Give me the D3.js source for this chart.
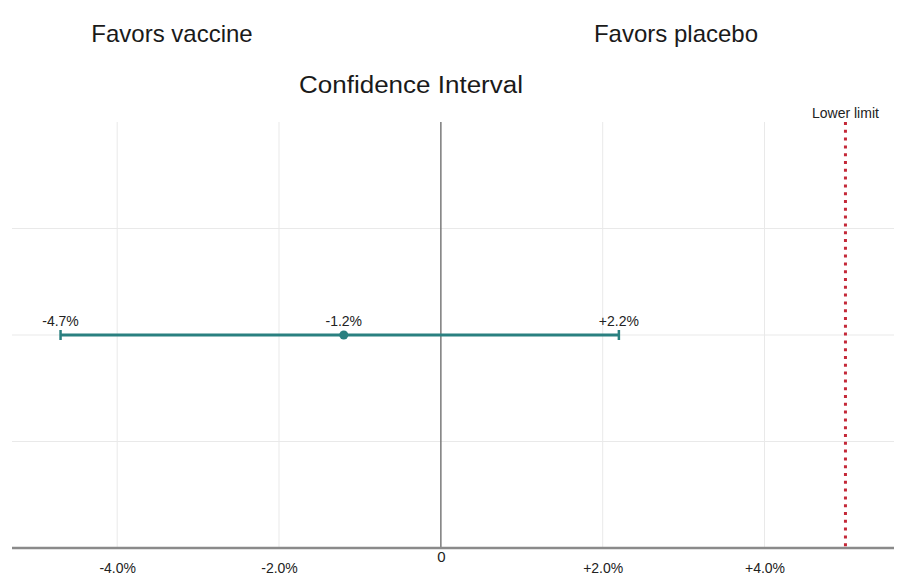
<!DOCTYPE html>
<html>
<head>
<meta charset="utf-8">
<script src="https://cdn.jsdelivr.net/npm/d3@7"></script>
<style>
  html, body { margin: 0; padding: 0; background: #fff; }
  svg { display: block; font-family: "Liberation Sans", Arial, sans-serif; }
</style>
</head>
<body>
<svg id="chart" width="897" height="577"></svg>
<script>
// Interval estimate (difference, %)
const estimateLabels = ["-4.7%", "-1.2%", "+2.2%"];
const lowerBound = -4.7;
const pointEstimate = -1.2;
const upperBound = 2.2;
const lowerLimit = 5.0;
const lowerLimitLabel = "Lower limit";
const tickValues = [-4, -2, 0, 2, 4];
const tickLabels = ["-4.0%", "-2.0%", "0", "+2.0%", "+4.0%"];
const rowValues = [1, 2, 3];   // horizontal grid rows; the interval sits on row 2
const intervalRow = 2;
const sideLabels = ["Favors vaccine", "Favors placebo"];
const title = "Confidence Interval";

const svg = d3.select("#chart");
const plotTop = 122, plotBottom = 548, plotLeft = 12, plotRight = 894;

const x = d3.scaleLinear().domain([-5.3, 5.6]).range([plotLeft, plotRight]);
const y = d3.scaleLinear().domain([0, 4]).range([plotBottom, plotTop]);

// grid
const grid = svg.append("g").attr("stroke", "#e9e9e9").attr("stroke-width", 1);
grid.selectAll("line.v").data(tickValues.filter(d => d !== 0)).join("line")
  .attr("class", "v")
  .attr("x1", d => x(d)).attr("x2", d => x(d))
  .attr("y1", plotTop).attr("y2", plotBottom);
grid.selectAll("line.h").data(rowValues).join("line")
  .attr("class", "h")
  .attr("x1", plotLeft).attr("x2", plotRight)
  .attr("y1", d => y(d)).attr("y2", d => y(d));

// zero reference line
svg.append("line")
  .attr("x1", x(0)).attr("x2", x(0))
  .attr("y1", plotTop).attr("y2", plotBottom)
  .attr("stroke", "#7a7a7a").attr("stroke-width", 1.5);

// x axis
const axis = d3.axisBottom(x)
  .tickValues(tickValues)
  .tickFormat((d, i) => tickLabels[i])
  .tickSize(0)
  .tickPadding(12);
const axisG = svg.append("g").attr("transform", `translate(0,${plotBottom})`).call(axis);
axisG.select(".domain").remove();
axisG.selectAll("text")
  .attr("font-family", "'Liberation Sans', Arial, sans-serif")
  .attr("font-size", d => d === 0 ? 15 : 14)
  .attr("fill", "#222")
  .attr("dy", d => d === 0 ? "0.15em" : "0.95em");
svg.append("line")
  .attr("x1", plotLeft).attr("x2", plotRight)
  .attr("y1", plotBottom).attr("y2", plotBottom)
  .attr("stroke", "#8a8a8a").attr("stroke-width", 2.5);

// lower limit
svg.append("line")
  .attr("x1", x(lowerLimit)).attr("x2", x(lowerLimit))
  .attr("y1", plotTop).attr("y2", plotBottom)
  .attr("stroke", "#c42838").attr("stroke-width", 3)
  .attr("stroke-dasharray", "3,4.8");
svg.append("text")
  .attr("x", x(lowerLimit)).attr("y", 118)
  .attr("text-anchor", "middle")
  .attr("font-size", 14).attr("fill", "#222")
  .text(lowerLimitLabel);

// interval
const teal = "#2a8080";
const cy = y(intervalRow);
svg.append("line")
  .attr("x1", x(lowerBound)).attr("x2", x(upperBound))
  .attr("y1", cy).attr("y2", cy)
  .attr("stroke", teal).attr("stroke-width", 3);
svg.selectAll("line.cap").data([lowerBound, upperBound]).join("line")
  .attr("class", "cap")
  .attr("x1", d => x(d)).attr("x2", d => x(d))
  .attr("y1", cy - 5).attr("y2", cy + 5)
  .attr("stroke", teal).attr("stroke-width", 2.5);
svg.append("circle")
  .attr("cx", x(pointEstimate)).attr("cy", cy).attr("r", 4.5)
  .attr("fill", teal);
svg.selectAll("text.est").data([lowerBound, pointEstimate, upperBound]).join("text")
  .attr("class", "est")
  .attr("x", d => x(d)).attr("y", cy - 9)
  .attr("text-anchor", "middle")
  .attr("font-size", 14).attr("fill", "#222")
  .text((d, i) => estimateLabels[i]);

// headings
svg.selectAll("text.side").data(sideLabels).join("text")
  .attr("class", "side")
  .attr("x", (d, i) => i === 0 ? 172 : 676)
  .attr("y", 42)
  .attr("text-anchor", "middle")
  .attr("font-size", 24).attr("fill", "#1a1a1a")
  .text(d => d);
svg.append("text")
  .attr("x", 411).attr("y", 93)
  .attr("text-anchor", "middle")
  .attr("font-size", 23).attr("fill", "#1a1a1a")
  .attr("textLength", 224).attr("lengthAdjust", "spacingAndGlyphs")
  .text(title);
</script>
</body>
</html>
